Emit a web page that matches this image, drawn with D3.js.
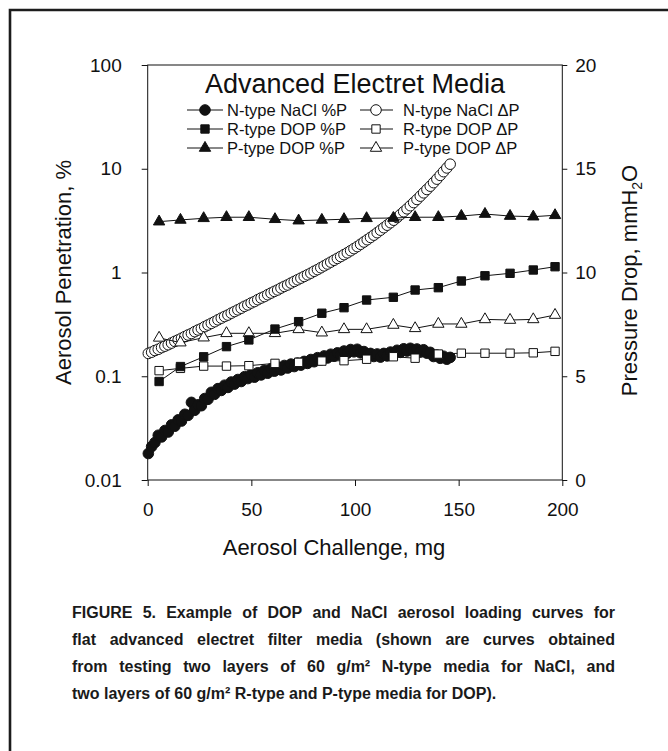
<!DOCTYPE html>
<html><head><meta charset="utf-8">
<script src="https://cdn.jsdelivr.net/npm/d3@7"></script>
<style>
html,body{margin:0;padding:0;background:#fff;}
svg{display:block;}
</style></head><body>
<svg id="c" width="668" height="751"></svg>
<script>
// ---------- DATA ----------
const naclX = [0.3,1.9,3.5,5.1,6.7,8.3,9.9,11.5,13.1,14.7,16.3,17.9,19.5,21.1,22.7,24.3,25.9,27.5,29.1,30.7,32.3,33.9,35.5,37.1,38.7,40.3,41.9,43.5,45.1,46.7,48.3,49.9,51.5,53.1,54.7,56.3,57.9,59.5,61.1,62.7,64.3,65.9,67.5,69.1,70.7,72.3,73.9,75.5,77.1,78.7,80.3,81.9,83.5,85.1,86.7,88.3,89.9,91.5,93.1,94.7,96.3,97.9,99.5,101.1,102.7,104.3,105.9,107.5,109.1,110.7,112.3,113.9,115.5,117.1,118.7,120.3,121.9,123.5,125.1,126.7,128.3,129.9,131.5,133.1,134.7,136.3,137.9,139.5,141.1,142.7,144.3,145.9];
const naclPen = [0.018,0.021,0.023,0.027,0.026,0.030,0.029,0.034,0.033,0.038,
  0.037,0.043,0.042,0.056,0.047,0.053,0.052,0.061,0.060,0.070,
  0.067,0.076,0.073,0.082,0.078,0.088,0.084,0.093,0.089,0.099,
  0.095,0.104,0.098,0.108,0.103,0.114,0.107,0.118,0.112,0.123,
  0.115,0.127,0.120,0.131,0.124,0.134,0.128,0.139,0.133,0.145,
  0.138,0.151,0.144,0.157,0.150,0.163,0.156,0.168,0.160,0.175,
  0.167,0.181,0.172,0.182,0.168,0.173,0.160,0.166,0.155,0.164,
  0.153,0.166,0.157,0.171,0.163,0.178,0.170,0.184,0.175,0.186,
  0.175,0.183,0.172,0.180,0.167,0.170,0.155,0.160,0.149,0.156,
  0.146,0.152];
const naclDP = [6.10,6.16,6.24,6.30,6.38,6.45,6.52,6.60,6.68,6.75,6.83,6.91,6.99,7.06,7.15,7.23,7.30,7.39,7.47,7.55,7.63,7.72,7.80,7.88,7.95,8.04,8.12,8.20,8.28,8.37,8.44,8.53,8.60,8.69,8.77,8.84,8.93,9.01,9.09,9.16,9.25,9.33,9.40,9.49,9.57,9.65,9.73,9.81,9.89,9.97,10.06,10.14,10.23,10.32,10.41,10.50,10.59,10.68,10.77,10.86,10.95,11.05,11.15,11.25,11.36,11.47,11.58,11.69,11.80,11.92,12.04,12.16,12.28,12.40,12.52,12.65,12.79,12.93,13.07,13.22,13.37,13.52,13.68,13.84,14.00,14.16,14.33,14.50,14.68,14.86,15.04,15.22];
const dopX = [5.5,15.8,27,38,48.8,61.4,72.8,84,94.7,105.6,118.5,129,140.2,151.3,162.7,174.8,186,196.5];
const rPen = [0.089,0.124,0.154,0.193,0.224,0.285,0.336,0.405,0.458,0.543,0.577,0.678,0.714,0.828,0.930,0.982,1.057,1.137];
const rDP  = [5.27,5.38,5.49,5.49,5.51,5.62,5.67,5.73,5.75,5.82,5.94,5.87,6.07,6.11,6.11,6.11,6.13,6.20];
const pPen = [3.09,3.21,3.33,3.41,3.41,3.26,3.16,3.21,3.26,3.33,3.35,3.41,3.41,3.50,3.66,3.50,3.45,3.56];
const pDP  = [6.85,6.62,6.86,7.07,7.07,7.07,7.26,7.10,7.26,7.26,7.47,7.31,7.52,7.52,7.74,7.71,7.74,7.95];
const xTicks = [0,50,100,150,200];
const penTicks = [0.01,0.1,1,10,100];
const penTickLabels = ["0.01","0.1","1","10","100"];
const dpTicks = [0,5,10,15,20];
const legendTitle = "Advanced Electret Media";
const legendLabels = ["N-type NaCl %P","N-type NaCl \u0394P","R-type DOP %P","R-type DOP \u0394P","P-type DOP %P","P-type DOP \u0394P"];
const xTitle = "Aerosol Challenge, mg";
const yLTitle = "Aerosol Penetration, %";
const captionLines = [
  "FIGURE 5. Example of DOP and NaCl aerosol loading curves for",
  "flat advanced electret filter media (shown are curves obtained",
  "from testing two layers of 60 g/m\u00B2 N-type media for NaCl, and",
  "two layers of 60 g/m\u00B2 R-type and P-type media for DOP)."
];

// ---------- LAYOUT ----------
const W = 668, H = 751;
const FONT = "'Liberation Sans', Arial, Helvetica, sans-serif";
const INK = "#111";
const m = {left:147.7, right:562.3, top:65, bottom:480};
const x = d3.scaleLinear().domain([0,200]).range([m.left,m.right]);
const yL = d3.scaleLog().domain([0.01,100]).range([m.bottom,m.top]);
const yR = d3.scaleLinear().domain([0,20]).range([m.bottom,m.top]);

const svg = d3.select("#c");
svg.append("rect").attr("width",W).attr("height",H).attr("fill","#fff");
svg.append("path").attr("d","M10,751 V10 H668").attr("fill","none").attr("stroke","#1c1c1c").attr("stroke-width",2.6);

svg.append("rect").attr("x",m.left).attr("y",m.top).attr("width",m.right-m.left).attr("height",m.bottom-m.top)
  .attr("fill","none").attr("stroke",INK).attr("stroke-width",1);

function styleAxis(g, fs){
  g.attr("font-family",FONT).attr("font-size",fs).attr("color",INK);
  g.select(".domain").remove();
  g.selectAll("line").attr("stroke-width",1);
}
const gL = svg.append("g").attr("transform",`translate(${m.left},0)`)
  .call(d3.axisLeft(yL).tickValues(penTicks).tickFormat((d,i)=>penTickLabels[i]).tickSizeInner(6).tickSizeOuter(0).tickPadding(20));
styleAxis(gL,19);
const gR = svg.append("g").attr("transform",`translate(${m.right},0)`)
  .call(d3.axisRight(yR).tickValues(dpTicks).tickFormat(d3.format("d")).tickSizeInner(5).tickSizeOuter(0).tickPadding(8));
styleAxis(gR,19);
const gB = svg.append("g").attr("transform",`translate(0,${m.bottom})`)
  .call(d3.axisBottom(x).tickValues(xTicks).tickFormat(d3.format("d")).tickSizeInner(6).tickSizeOuter(0).tickPadding(17));
styleAxis(gB,19);

svg.append("text").attr("x",334).attr("y",555).attr("text-anchor","middle")
  .attr("font-family",FONT).attr("font-size",22).attr("fill",INK).text(xTitle);
svg.append("text").attr("transform",`translate(71,${(m.top+m.bottom)/2}) rotate(-90)`).attr("text-anchor","middle")
  .attr("font-family",FONT).attr("font-size",22).attr("fill",INK).text(yLTitle);
const rt = svg.append("text").attr("transform",`translate(637,${(m.top+m.bottom)/2+8}) rotate(-90)`).attr("text-anchor","middle")
  .attr("font-family",FONT).attr("font-size",22).attr("fill",INK);
rt.append("tspan").text("Pressure Drop, mmH");
rt.append("tspan").attr("font-size",14).attr("dy",5).text("2");
rt.append("tspan").attr("dy",-5).text("O");

// ---------- SERIES ----------
const plot = svg.append("g");
function symPath(type){
  const sym = type==="circle" ? d3.symbolCircle : type==="square" ? d3.symbolSquare : d3.symbolTriangle;
  const size = type==="circle" ? Math.PI*5.3*5.3 : type==="square" ? 70 : 56;
  return d3.symbol(sym, size)();
}
function drawLine(xs, ys, yScale){
  const pts = xs.map((v,i)=>[v,ys[i]]);
  plot.append("path").datum(pts).attr("fill","none").attr("stroke",INK).attr("stroke-width",1)
    .attr("d", d3.line().x(d=>x(d[0])).y(d=>yScale(d[1])));
  return pts;
}
function drawMarkers(pts, yScale, type, filled){
  plot.append("g").selectAll("path").data(pts).join("path")
    .attr("transform",d=>`translate(${x(d[0])},${yScale(d[1])})`)
    .attr("d", symPath(type))
    .attr("fill", filled ? INK : "#fff").attr("stroke",INK).attr("stroke-width",1);
}
const s1 = drawLine(naclX, naclPen, yL);
drawMarkers(s1, yL, "circle", true);
const s2 = drawLine(naclX, naclDP, yR);
drawMarkers(s2, yR, "circle", false);
const s3 = drawLine(dopX, rDP, yR);
const s4 = drawLine(dopX, pDP, yR);
const s5 = drawLine(dopX, rPen, yL);
const s6 = drawLine(dopX, pPen, yL);
drawMarkers(s3, yR, "square", false);
drawMarkers(s4, yR, "triangle", false);
drawMarkers(s5, yL, "square", true);
drawMarkers(s6, yL, "triangle", true);

// ---------- LEGEND ----------
const lg = svg.append("g");
lg.append("text").attr("x",355).attr("y",83).attr("dy","0.36em").attr("text-anchor","middle")
  .attr("font-family",FONT).attr("font-size",27).attr("fill",INK).text(legendTitle);
const rowsY = [110,129,148];
const cols = [{x1:187,x2:223,mx:205,tx:227},{x1:360,x2:393,mx:376,tx:403}];
const legSpec = [["circle",true],["circle",false],["square",true],["square",false],["triangle",true],["triangle",false]];
legendLabels.forEach((lab,i)=>{
  const c = cols[i%2], yy = rowsY[Math.floor(i/2)];
  lg.append("line").attr("x1",c.x1).attr("x2",c.x2).attr("y1",yy).attr("y2",yy).attr("stroke",INK).attr("stroke-width",1);
  const [type,filled] = legSpec[i];
  lg.append("path").attr("transform",`translate(${c.mx},${yy})`).attr("d",symPath(type))
    .attr("fill",filled?INK:"#fff").attr("stroke",INK).attr("stroke-width",1);
  lg.append("text").attr("x",c.tx).attr("y",yy).attr("dy","0.36em")
    .attr("font-family",FONT).attr("font-size",16.5).attr("fill",INK).text(lab);
});

// ---------- CAPTION ----------
const capLeft = 72, capRight = 615, capFS = 16, capY0 = 618, capDY = 27;
const capG = svg.append("g").attr("font-family",FONT).attr("font-weight","bold").attr("font-size",capFS).attr("fill","#1a1a1a");
function measure(str){
  const t = capG.append("text").text(str);
  const w = t.node().getComputedTextLength(); t.remove(); return w;
}
const spaceW = measure("a a") - measure("aa");
const line1Words = captionLines[0].split(" ");
const natural1 = d3.sum(line1Words.map(measure)) + spaceW*(line1Words.length-1);
const sx = Math.min(1, (capRight-capLeft)/natural1);
captionLines.forEach((line,i)=>{
  const words = line.split(" ");
  const ws = words.map(measure);
  const total = d3.sum(ws)*sx;
  const last = i === captionLines.length-1;
  const gap = last ? spaceW*sx : ((capRight-capLeft)-total)/(words.length-1);
  let cx = capLeft;
  words.forEach((w,j)=>{
    capG.append("text").attr("transform",`translate(${cx},${capY0+i*capDY}) scale(${sx},1)`).text(w);
    cx += ws[j]*sx + gap;
  });
});
</script>
</body></html>
